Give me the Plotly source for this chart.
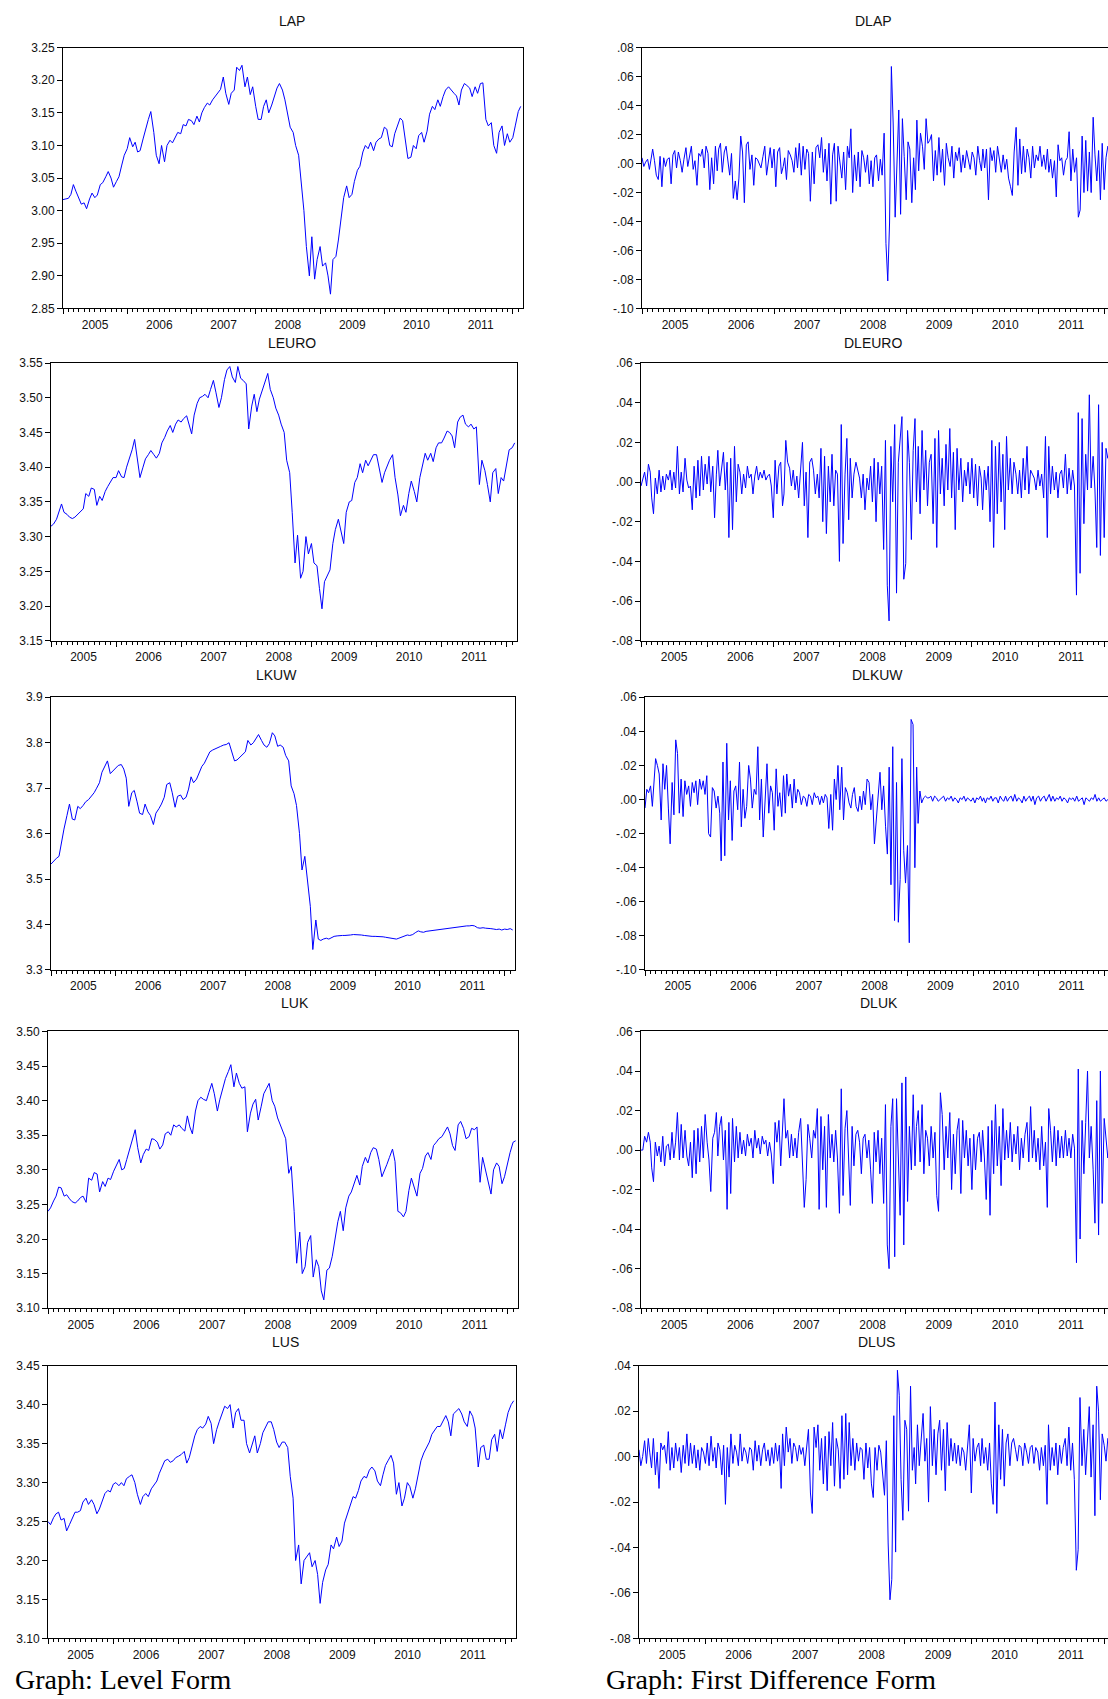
import pandas as pd
import plotly.graph_objects as go

# ---------------- level series (two readings per month, Jan 2005 - Feb 2012) ----------------
lap = [
    3.017, 3.018, 3.019, 3.025, 3.040, 3.030, 3.020, 3.010, 3.012, 3.003, 3.018, 3.027,
    3.020, 3.024, 3.040, 3.043, 3.052, 3.060, 3.050, 3.036, 3.045, 3.052, 3.070, 3.085,
    3.095, 3.112, 3.098, 3.105, 3.090, 3.092, 3.110, 3.125, 3.140, 3.152, 3.120, 3.085,
    3.072, 3.100, 3.075, 3.100, 3.108, 3.104, 3.112, 3.120, 3.118, 3.132, 3.130, 3.140,
    3.138, 3.132, 3.145, 3.136, 3.150, 3.158, 3.165, 3.162, 3.170, 3.175, 3.182, 3.186,
    3.205, 3.180, 3.163, 3.180, 3.185, 3.220, 3.215, 3.223, 3.190, 3.205, 3.178, 3.190,
    3.160, 3.140, 3.140, 3.160, 3.170, 3.150, 3.162, 3.175, 3.188, 3.195, 3.185, 3.170,
    3.150, 3.128, 3.120, 3.100, 3.085, 3.050, 3.000, 2.945, 2.900, 2.960, 2.895, 2.925,
    2.945, 2.915, 2.920, 2.900, 2.872, 2.925, 2.930, 2.955, 2.995, 3.020, 3.038, 3.020,
    3.025, 3.045, 3.062, 3.068, 3.090, 3.100, 3.095, 3.105, 3.092, 3.105, 3.110, 3.112,
    3.128, 3.125, 3.100, 3.098, 3.118, 3.128, 3.142, 3.138, 3.110, 3.080, 3.082, 3.100,
    3.095, 3.115, 3.120, 3.105, 3.122, 3.148, 3.160, 3.155, 3.170, 3.160, 3.175, 3.185,
    3.190, 3.185, 3.180, 3.176, 3.162, 3.185, 3.195, 3.192, 3.188, 3.175, 3.190, 3.180,
    3.195, 3.196, 3.140, 3.130, 3.135, 3.100, 3.088, 3.120, 3.130, 3.100, 3.118, 3.105,
    3.112, 3.130, 3.152, 3.160,
]
leuro = [
    3.315, 3.318, 3.325, 3.335, 3.347, 3.335, 3.332, 3.328, 3.326, 3.328, 3.332, 3.336,
    3.340, 3.362, 3.358, 3.370, 3.368, 3.345, 3.358, 3.352, 3.365, 3.372, 3.380, 3.385,
    3.385, 3.395, 3.386, 3.385, 3.400, 3.410, 3.425, 3.440, 3.410, 3.385, 3.400, 3.412,
    3.418, 3.424, 3.418, 3.413, 3.420, 3.435, 3.443, 3.452, 3.460, 3.450, 3.462, 3.468,
    3.465, 3.470, 3.474, 3.462, 3.448, 3.475, 3.492, 3.500, 3.502, 3.505, 3.500, 3.512,
    3.525, 3.508, 3.486, 3.500, 3.526, 3.540, 3.545, 3.530, 3.522, 3.545, 3.528, 3.525,
    3.520, 3.455, 3.488, 3.505, 3.480, 3.498, 3.512, 3.520, 3.535, 3.512, 3.500, 3.485,
    3.475, 3.462, 3.450, 3.410, 3.392, 3.335, 3.262, 3.302, 3.240, 3.250, 3.300, 3.275,
    3.290, 3.262, 3.258, 3.225, 3.196, 3.235, 3.245, 3.252, 3.290, 3.310, 3.325, 3.310,
    3.290, 3.335, 3.350, 3.352, 3.378, 3.385, 3.405, 3.392, 3.410, 3.402, 3.412, 3.418,
    3.418, 3.400, 3.378, 3.392, 3.402, 3.410, 3.418, 3.385, 3.360, 3.330, 3.345, 3.335,
    3.362, 3.380, 3.365, 3.350, 3.385, 3.402, 3.420, 3.410, 3.420, 3.408, 3.428, 3.435,
    3.435, 3.442, 3.452, 3.450, 3.445, 3.428, 3.465, 3.472, 3.475, 3.462, 3.458, 3.462,
    3.455, 3.458, 3.375, 3.410, 3.395, 3.375, 3.350, 3.392, 3.398, 3.362, 3.385, 3.380,
    3.405, 3.425, 3.428, 3.435,
]
lkuw = [
    3.533, 3.540, 3.546, 3.550, 3.585, 3.610, 3.640, 3.665, 3.632, 3.630, 3.660, 3.655,
    3.662, 3.670, 3.675, 3.682, 3.690, 3.700, 3.712, 3.735, 3.748, 3.760, 3.732, 3.738,
    3.745, 3.750, 3.752, 3.742, 3.722, 3.660, 3.690, 3.695, 3.670, 3.645, 3.642, 3.665,
    3.648, 3.640, 3.620, 3.645, 3.655, 3.665, 3.680, 3.708, 3.712, 3.690, 3.658, 3.682,
    3.685, 3.675, 3.680, 3.698, 3.725, 3.712, 3.720, 3.735, 3.748, 3.755, 3.768, 3.780,
    3.784, 3.786, 3.790, 3.792, 3.795, 3.796, 3.800, 3.780, 3.760, 3.762, 3.768, 3.775,
    3.780, 3.805, 3.795, 3.800, 3.810, 3.818, 3.805, 3.795, 3.790, 3.798, 3.822, 3.815,
    3.792, 3.795, 3.790, 3.772, 3.760, 3.705, 3.688, 3.662, 3.600, 3.520, 3.550, 3.500,
    3.440, 3.345, 3.410, 3.368, 3.365, 3.368, 3.370, 3.368, 3.372, 3.374, 3.375, 3.376,
    3.376, 3.376, 3.376, 3.377, 3.378, 3.378, 3.377, 3.377, 3.376, 3.375, 3.375, 3.374,
    3.374, 3.374, 3.373, 3.373, 3.372, 3.371, 3.370, 3.369, 3.368, 3.370, 3.372, 3.375,
    3.377, 3.376, 3.378, 3.382, 3.386, 3.384, 3.383, 3.385, 3.386, 3.386, 3.387, 3.388,
    3.389, 3.390, 3.391, 3.392, 3.393, 3.393, 3.394, 3.395, 3.396, 3.396, 3.397, 3.397,
    3.398, 3.397, 3.393, 3.392, 3.393, 3.392, 3.392, 3.391, 3.390, 3.389, 3.390, 3.388,
    3.390, 3.389, 3.391, 3.388,
]
luk = [
    3.240, 3.245, 3.255, 3.262, 3.275, 3.274, 3.262, 3.264, 3.258, 3.254, 3.252, 3.255,
    3.260, 3.262, 3.253, 3.288, 3.285, 3.296, 3.294, 3.268, 3.283, 3.276, 3.288, 3.286,
    3.298, 3.305, 3.315, 3.300, 3.302, 3.315, 3.332, 3.345, 3.358, 3.332, 3.310, 3.322,
    3.330, 3.328, 3.345, 3.344, 3.340, 3.330, 3.336, 3.352, 3.355, 3.350, 3.365, 3.362,
    3.365, 3.360, 3.356, 3.378, 3.362, 3.352, 3.385, 3.400, 3.405, 3.402, 3.400, 3.412,
    3.425, 3.410, 3.385, 3.402, 3.418, 3.432, 3.442, 3.452, 3.420, 3.440, 3.425, 3.418,
    3.420, 3.355, 3.382, 3.395, 3.402, 3.372, 3.392, 3.410, 3.418, 3.425, 3.400, 3.392,
    3.375, 3.365, 3.355, 3.345, 3.295, 3.305, 3.240, 3.165, 3.210, 3.150, 3.160, 3.195,
    3.205, 3.145, 3.170, 3.160, 3.125, 3.112, 3.155, 3.158, 3.175, 3.200, 3.225, 3.240,
    3.212, 3.245, 3.262, 3.268, 3.282, 3.292, 3.278, 3.305, 3.318, 3.310, 3.325, 3.332,
    3.330, 3.315, 3.290, 3.298, 3.308, 3.318, 3.330, 3.312, 3.240, 3.238, 3.232, 3.240,
    3.270, 3.288, 3.275, 3.262, 3.295, 3.302, 3.320, 3.325, 3.315, 3.335, 3.340, 3.345,
    3.348, 3.355, 3.362, 3.352, 3.335, 3.328, 3.365, 3.370, 3.360, 3.345, 3.348, 3.360,
    3.358, 3.362, 3.282, 3.318, 3.300, 3.285, 3.265, 3.300, 3.310, 3.305, 3.280, 3.290,
    3.312, 3.325, 3.340, 3.342,
]
lus = [
    3.250, 3.246, 3.255, 3.260, 3.262, 3.252, 3.254, 3.238, 3.246, 3.254, 3.262, 3.262,
    3.264, 3.275, 3.280, 3.272, 3.278, 3.272, 3.260, 3.266, 3.278, 3.286, 3.290, 3.288,
    3.298, 3.300, 3.296, 3.300, 3.296, 3.305, 3.308, 3.310, 3.300, 3.285, 3.272, 3.282,
    3.286, 3.282, 3.292, 3.296, 3.302, 3.312, 3.320, 3.328, 3.330, 3.326, 3.328, 3.332,
    3.334, 3.336, 3.340, 3.325, 3.332, 3.345, 3.360, 3.368, 3.372, 3.370, 3.375, 3.385,
    3.376, 3.350, 3.368, 3.378, 3.388, 3.398, 3.395, 3.400, 3.370, 3.390, 3.395, 3.380,
    3.380, 3.350, 3.338, 3.348, 3.360, 3.338, 3.350, 3.364, 3.372, 3.378, 3.378, 3.368,
    3.352, 3.345, 3.352, 3.352, 3.345, 3.308, 3.280, 3.200, 3.220, 3.170, 3.200, 3.205,
    3.210, 3.192, 3.200, 3.182, 3.145, 3.172, 3.188, 3.195, 3.220, 3.215, 3.230, 3.218,
    3.225, 3.248, 3.260, 3.268, 3.282, 3.280, 3.290, 3.302, 3.308, 3.306, 3.316, 3.320,
    3.315, 3.302, 3.296, 3.310, 3.322, 3.328, 3.335, 3.325, 3.285, 3.300, 3.270, 3.280,
    3.300, 3.295, 3.280, 3.292, 3.310, 3.328, 3.338, 3.345, 3.352, 3.362, 3.368, 3.372,
    3.372, 3.378, 3.386, 3.378, 3.360, 3.388, 3.392, 3.395, 3.388, 3.378, 3.372, 3.392,
    3.385, 3.370, 3.320, 3.345, 3.348, 3.330, 3.330, 3.355, 3.362, 3.340, 3.368, 3.356,
    3.375, 3.390, 3.400, 3.405,
]

# ---------------- first differences (three readings per month) ----------------
dlap = [
    .004, -.002, .001, .003, -.004, .006, .010, .002, -.008, -.011, .005, -.016,
    .004, -.002, .003, .004, -.014, .006, .009, -.003, .008, .002, -.006, .003,
    .011, -.002, .004, .012, -.004, .002, -.015, .007, .005, .010, -.003, .012,
    .007, -.018, .004, -.014, .012, -.005, .010, .014, -.006, .008, .012, .003,
    -.008, .007, -.024, -.012, -.025, -.010, .019, .008, -.027, .013, .015, -.004,
    .006, -.015, .004, .003, .000, -.003, .005, .012, -.008, .002, .011, -.003,
    .010, -.016, .008, .011, -.007, -.002, .004, -.011, .009, .006, .002, -.006,
    .011, -.003, .014, -.008, .012, -.004, .010, .007, -.026, .008, -.014, .011,
    .013, .004, .018, -.006, .010, -.012, .014, -.028, .006, .014, -.026, .012,
    .002, -.010, .008, -.018, .012, .004, .024, -.020, .006, -.012, .008, -.016,
    .009, .004, -.006, .006, -.014, .002, -.016, .004, .006, -.012, .003, -.008,
    .021, -.055, -.081, -.041, .067, .028, -.037, .008, .037, -.035, .031, .005,
    -.025, .015, .010, -.027, .004, -.018, .030, -.005, .021, .012, -.004, .031,
    .014, .016, .020, -.012, .009, -.008, .018, -.006, .010, -.015, .014, .004,
    -.002, .012, -.010, .008, .002, .011, -.006, .006, -.003, .009, .001, -.004,
    .008, .004, -.008, .012, .002, -.005, .010, -.003, .010, -.025, .011, .002,
    .009, -.006, .012, .004, -.006, .006, -.004, .003, -.010, -.016, -.022, .008,
    .025, -.015, .017, -.007, .012, -.006, .010, .004, -.010, .012, -.003, .006,
    .002, .012, -.002, .006, -.004, .010, -.006, .003, -.010, .002, -.023, .013,
    .002, .004, -.008, .002, .004, .022, -.012, .010, -.006, .004, -.037, -.032,
    .019, -.020, .016, -.019, .008, -.020, .032, .006, -.012, .009, -.025, .014,
    -.018, .004, .012, .010, .012, .004,
]
dleuro = [
    -.002, .002, .005, -.002, .009, .005, -.008, -.016, .002, -.006, .006, -.005,
    .003, -.004, .004, .001, .006, -.004, .005, -.003, .018, -.006, .005, -.005,
    .012, .001, -.003, -.002, -.014, .008, -.008, .011, -.007, .013, -.004, .009,
    -.001, .013, -.005, .008, -.018, .004, .016, -.002, .006, .015, -.004, .010,
    -.028, .012, -.024, .018, -.010, .009, .005, -.006, .004, -.003, .008, .002,
    .004, -.006, .003, .008, .001, .005, .002, .006, .001, .003, .004, -.002,
    -.018, .011, -.006, .008, .010, -.012, -.006, .021, .010, .007, -.002, .006,
    -.004, .003, -.008, .009, .020, -.012, .005, -.028, .010, .012, .006, -.006,
    .004, -.008, .017, -.020, .013, -.026, .008, -.010, .014, -.012, .006, .004,
    -.040, .029, -.031, .004, .022, -.019, .012, -.008, .004, .010, .006, .002,
    -.008, .004, -.014, .002, -.004, .008, -.010, .012, -.020, .010, -.006, .008,
    -.034, .021, -.052, -.070, .018, -.010, .029, -.056, .010, .020, .033, -.049,
    -.041, .026, .010, -.029, .016, .032, -.010, .018, -.016, .026, -.004, .016,
    -.012, .010, .014, -.021, .022, -.033, .026, -.006, .012, -.012, .019, -.004,
    .027, -.008, .015, -.024, .017, -.004, .012, -.010, .006, -.002, .010, -.006,
    .012, -.008, .009, -.012, .008, .002, -.014, .006, -.004, .008, -.020, .021,
    -.033, .018, -.016, .020, -.010, .014, -.024, .023, -.004, .012, -.006, .010,
    .004, -.006, .006, -.008, .012, -.004, .018, -.006, .006, .004, .002, -.004,
    .006, -.002, .004, -.008, .023, -.028, .018, -.006, .008, -.004, .005, -.008,
    .004, .006, -.003, .014, -.006, .007, -.004, .006, -.002, -.057, .035, -.046,
    .032, -.021, .014, -.004, .044, -.003, .013, -.004, -.033, .039, -.037, .020,
    -.028, .017, .012, .015, .004, .010,
]
dlkuw = [
    -.005, .006, .004, .008, -.004, .009, .024, .020, .015, -.012, .021, .006,
    .020, -.005, -.026, .010, -.009, .035, .027, -.008, .012, -.010, .011, .003,
    .008, -.004, .010, .004, .011, -.003, .012, .006, .011, .003, .014, -.020,
    -.022, .007, .005, -.005, .002, -.008, -.036, .022, -.033, .033, -.012, .011,
    -.024, .005, .008, -.006, .022, -.016, .006, -.011, -.004, .020, .012, -.005,
    .006, .003, .031, -.012, .012, -.022, .004, .021, -.008, .008, .004, -.018,
    .018, -.004, .004, -.010, .014, -.008, .015, .002, .009, -.005, .012, -.002,
    .006, .004, -.003, .002, .001, -.004, .003, .002, -.003, .004, .001, .002,
    -.003, .002, -.002, .003, .001, -.017, .003, -.018, .012, .000, .020, -.006,
    .019, -.012, .007, .004, -.002, -.005, .003, .007, -.004, -.007, .002, -.006,
    .005, -.003, .012, .010, -.006, .003, -.026, -.012, .004, .016, -.006, .008,
    -.016, -.032, .019, -.050, .031, -.071, .010, -.072, -.047, .024, -.030, -.049,
    -.027, -.084, .047, .044, -.040, .019, -.014, .005, -.002, .001, .002, .001,
    .001, .002, -.001, .002, .001, -.001, .000, .001, .002, -.001, .001, .000,
    .002, -.001, .001, .000, -.002, .001, .000, .002, -.001, .001, .000, -.001,
    .001, -.002, .001, .000, .002, -.001, .001, -.002, .001, .000, .002, -.001,
    .001, .001, -.002, .002, .000, -.001, .002, -.001, .001, .002, -.001, .003,
    -.001, .001, .000, -.002, .002, -.001, .001, .002, -.001, .002, -.003, .001,
    .002, -.001, .001, .002, -.001, .001, .003, -.001, .002, -.001, .001, .000,
    .002, -.001, .001, .000, -.002, .001, .000, .001, -.001, .002, -.001, .000,
    .001, -.003, .001, .000, -.001, .001, .000, .003, -.001, .001, -.001, .000,
    .001, -.001, .000, .001, -.001, .000,
]
dluk = [
    .000, .000, .007, .004, .009, .004, -.009, -.016, .004, -.003, .002, -.006,
    .007, -.008, .002, .003, -.005, .009, -.004, .004, .019, -.005, .013, -.004,
    .010, -.003, -.008, .004, -.014, .010, -.012, .011, -.006, .012, -.004, .018,
    .004, -.005, -.021, .006, .009, .019, -.003, .012, .017, -.005, .010, -.030,
    .014, -.022, .016, -.006, .012, -.004, .009, -.002, .005, -.003, .008, .002,
    .006, -.004, .010, .001, .006, -.002, .007, .003, .005, -.003, .004, -.002,
    -.017, .014, .004, .015, -.008, .010, .026, .006, .010, -.004, .008, -.003,
    .006, -.004, .009, .016, -.012, -.029, -.015, .013, .006, -.004, .010, .006,
    .021, -.030, .017, -.010, .012, -.029, .018, -.004, .008, -.006, .010, -.004,
    -.032, .031, -.023, .011, .020, -.006, -.028, .012, -.008, .008, .010, .004,
    -.012, .006, .008, -.004, .005, -.010, -.027, .009, -.006, .010, -.012, .006,
    -.027, .023, -.048, -.060, .012, .026, -.054, .026, -.010, -.033, .034, -.048,
    .037, -.026, .012, -.010, .028, -.008, .012, .020, -.006, .023, -.012, .010,
    .006, -.008, .012, -.004, .009, -.023, -.031, .029, .018, -.010, .012, -.004,
    .019, -.020, .008, -.012, .010, .016, -.022, .015, -.004, .010, -.008, .006,
    -.020, .008, -.010, .006, .009, -.006, .010, -.004, -.025, .012, -.033, .015,
    -.012, .023, -.008, .012, -.018, .021, -.005, .010, -.004, .014, -.006, .008,
    -.002, .012, -.010, .006, -.004, .008, .014, -.006, .022, -.004, .010, -.006,
    .006, -.010, .012, -.008, .004, -.029, .021, .010, -.006, .012, -.008, .010,
    -.004, .007, -.004, .010, -.003, .006, -.004, .008, .001, -.057, .041, -.045,
    .015, -.012, .014, .040, -.004, .012, -.010, -.037, .025, -.043, .040, -.027,
    .016, .005, -.004, .008, .003, .006,
]
dlus = [
    .003, -.004, .000, .007, -.003, .008, .002, -.005, .008, -.008, .002, -.014,
    .006, .003, .005, -.003, .011, -.006, .004, -.005, .006, -.002, .004, -.007,
    .005, -.003, .010, -.004, .006, -.003, .005, -.005, .003, -.006, .004, .002,
    -.003, .006, -.004, .009, -.002, .004, -.005, .006, .003, -.008, .005, -.021,
    .004, -.009, .010, -.003, .005, .002, -.004, .010, -.002, .004, .002, -.003,
    .004, .003, -.006, .007, -.002, .005, -.004, .003, .006, -.002, .003, -.004,
    .004, -.003, .006, -.002, .005, -.014, .010, -.004, .013, .002, .008, -.003,
    .006, .004, -.002, .005, .001, .004, -.004, .006, .012, -.016, -.025, .013,
    .004, .014, -.006, .008, -.012, .009, -.015, .011, -.004, .015, -.013, .008,
    .003, -.014, .018, -.010, .019, -.008, .015, -.004, .008, -.006, .006, -.002,
    .004, .003, -.010, .006, -.005, .004, -.012, -.018, .004, -.006, .005, .002,
    -.008, -.017, .007, -.038, -.063, -.054, .018, -.042, .038, .027, -.010, -.028,
    .016, .012, -.024, .031, -.006, .004, -.012, .014, -.004, .010, .019, -.002,
    .008, -.020, .022, -.004, .012, -.008, .010, .016, -.006, .012, -.015, .015,
    -.004, .008, -.002, .006, -.003, .005, -.004, .004, .002, -.006, .005, .014,
    -.016, .008, -.002, .004, .006, -.004, .008, -.003, .004, -.006, .006, -.012,
    -.021, .024, -.025, .014, -.010, .012, -.013, .006, .010, -.004, .006, .008,
    .003, -.002, .005, .004, -.004, .006, .002, -.003, .004, .005, -.003, .004,
    .002, -.006, .004, -.004, .005, -.021, .014, -.006, .004, -.004, .006, -.008,
    .005, -.003, .004, .008, -.004, .013, -.006, .006, -.010, -.050, -.041, .026,
    -.004, .012, -.008, .006, .022, -.009, .014, -.026, .031, .020, -.019, .010,
    .005, -.002, .008, .006, .004, .002,
]

level_dates = pd.date_range("2005-01-01", periods=len(lap), freq="SMS")
diff_dates = [pd.Timestamp(y, m, d) for y in range(2005, 2013)
              for m in range(1, 13) for d in (1, 11, 21)][:len(dlap)]

# name, values, dates, y min, y max, tick step, column
panels = [
    ("LAP", lap, level_dates, 2.85, 3.25, 0.05, 0),
    ("DLAP", dlap, diff_dates, -0.10, 0.08, 0.02, 1),
    ("LEURO", leuro, level_dates, 3.15, 3.55, 0.05, 0),
    ("DLEURO", dleuro, diff_dates, -0.08, 0.06, 0.02, 1),
    ("LKUW", lkuw, level_dates, 3.3, 3.9, 0.1, 0),
    ("DLKUW", dlkuw, diff_dates, -0.10, 0.06, 0.02, 1),
    ("LUK", luk, level_dates, 3.10, 3.50, 0.05, 0),
    ("DLUK", dluk, diff_dates, -0.08, 0.06, 0.02, 1),
    ("LUS", lus, level_dates, 3.10, 3.45, 0.05, 0),
    ("DLUS", dlus, diff_dates, -0.08, 0.04, 0.02, 1),
]

# Page geometry (pixels)
W, H = 1108, 1699
row_px = [(41, 304), (359, 639), (696, 971), (1033, 1312), (1370, 1645)]
col_px = [
    [(63, 523), (51, 517), (51, 515), (48, 518), (48, 516)],
    [(642, 1108), (641, 1108), (645, 1108), (641, 1108), (639, 1108)],
]
title_x = [[292, 292, 276, 295, 285], [873, 873, 877, 879, 876]]
title_y = [14, 339, 674, 1004, 1346]
x_end = ["2012-02-28", "2012-01-22"]

tick_font = dict(family="Liberation Sans, Arial", size=12, color="#111111")

fig = go.Figure()
layout = dict(
    width=W, height=H,
    margin=dict(l=0, r=0, t=0, b=0),
    paper_bgcolor="white", plot_bgcolor="white",
    showlegend=False,
    annotations=[],
)

for i, (name, vals, dates, lo, hi, step, col) in enumerate(panels):
    row = i // 2
    n = i + 1
    fig.add_trace(go.Scatter(
        x=dates, y=vals, mode="lines",
        line=dict(color="#0000FF", width=1),
        xaxis=f"x{n}", yaxis=f"y{n}", hoverinfo="skip",
    ))

    x0, x1 = col_px[col][row]
    top, bot = row_px[row]
    nticks = int(round((hi - lo) / step)) + 1
    tvals = [round(lo + step * k, 3) for k in range(nticks)]
    if col == 1:
        # EViews style: no leading zero
        ttext = [f"{v:.2f}".replace("0.", ".", 1) for v in tvals]
    elif step == 0.1:
        ttext = [f"{v:.1f}" for v in tvals]
    else:
        ttext = [f"{v:.2f}" for v in tvals]

    layout[f"xaxis{n}"] = dict(
        domain=[x0 / W, x1 / W], anchor=f"y{n}", type="date",
        range=["2005-01-01", x_end[col]],
        showline=True, linecolor="black", linewidth=1, mirror=True,
        ticks="outside", ticklen=5, tickcolor="black", tickwidth=1,
        tick0="2005-01-01", dtick="M12", tickformat="%Y",
        ticklabelmode="period",
        minor=dict(dtick="M1", ticks="outside", ticklen=3, tickcolor="black"),
        showgrid=False, zeroline=False, tickfont=tick_font,
    )
    layout[f"yaxis{n}"] = dict(
        domain=[1 - bot / H, 1 - top / H], anchor=f"x{n}",
        range=[lo, hi],
        showline=True, linecolor="black", linewidth=1, mirror=(col == 0),
        ticks="outside", ticklen=5, tickcolor="black", tickwidth=1,
        tickvals=tvals, ticktext=ttext,
        showgrid=False, zeroline=False, tickfont=tick_font,
    )
    layout["annotations"].append(dict(
        text=name, x=title_x[col][row] / W, y=1 - title_y[row] / H,
        xref="paper", yref="paper", showarrow=False,
        xanchor="center", yanchor="middle",
        font=dict(family="Liberation Sans, Arial", size=14, color="#111111"),
    ))

# Captions under the two columns
for text, px in [("Graph: Level Form", 13), ("Graph: First Difference Form", 604)]:
    layout["annotations"].append(dict(
        text=text, x=px / W, y=1 - 1686 / H, xref="paper", yref="paper",
        showarrow=False, xanchor="left", yanchor="middle",
        font=dict(family="Liberation Serif, Times New Roman", size=28, color="black"),
    ))

fig.update_layout(**layout)
fig.write_html("out.html", config={"displayModeBar": False},
               post_script="document.body.style.margin='0';")
